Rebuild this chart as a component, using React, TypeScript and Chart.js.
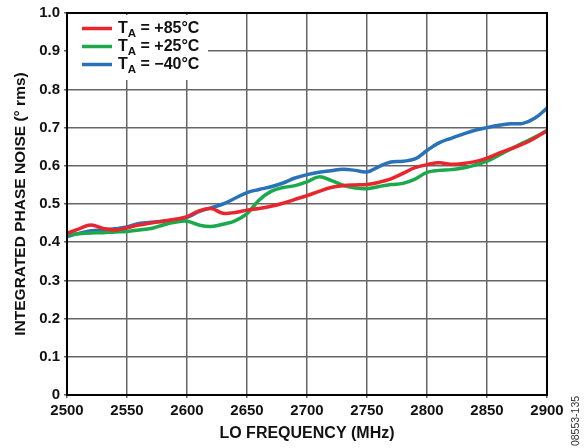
import React, { useEffect, useRef } from "react";
import { Chart, registerables } from "chart.js";

Chart.register(...registerables);

const freqMHz = [
  2500, 2510, 2520, 2530, 2540, 2550, 2560, 2570, 2580, 2590, 2600, 2610, 2620, 2630, 2640, 2650, 2660,
  2670, 2680, 2690, 2700, 2710, 2720, 2730, 2740, 2750, 2760, 2770, 2780, 2790, 2800, 2810, 2820, 2830,
  2840, 2850, 2860, 2870, 2880, 2890, 2900,
];

const noiseP85 = [
  0.423, 0.435, 0.445, 0.436, 0.432, 0.438, 0.445, 0.45, 0.455, 0.46, 0.467, 0.482, 0.488, 0.476, 0.478,
  0.484, 0.488, 0.494, 0.502, 0.512, 0.522, 0.533, 0.543, 0.548, 0.55, 0.551, 0.557, 0.566, 0.58, 0.595,
  0.603, 0.608, 0.604, 0.606, 0.611, 0.62, 0.633, 0.645, 0.657, 0.673, 0.692,
];

const noiseP25 = [
  0.419, 0.422, 0.424, 0.425, 0.427, 0.428, 0.432, 0.436, 0.445, 0.452, 0.455, 0.445, 0.441, 0.447, 0.456,
  0.475, 0.51, 0.533, 0.543, 0.548, 0.558, 0.571, 0.562, 0.549, 0.542, 0.54, 0.546, 0.551, 0.554, 0.565,
  0.583, 0.588, 0.59, 0.594, 0.602, 0.612, 0.628, 0.644, 0.66, 0.675, 0.692,
];

const noiseM40 = [
  0.415, 0.423, 0.43, 0.432, 0.435, 0.44, 0.449, 0.452, 0.455, 0.458, 0.465, 0.48, 0.49, 0.5, 0.515, 0.53,
  0.538, 0.545, 0.555, 0.568, 0.577, 0.583, 0.587, 0.591, 0.588, 0.584, 0.598, 0.61, 0.612, 0.618, 0.64,
  0.66, 0.672, 0.683, 0.693, 0.7, 0.706, 0.71, 0.711, 0.725, 0.751,
];

const seriesLabels = ["+85°C", "+25°C", "\u221240°C"];
const seriesColors = ["#e8262d", "#1ba94c", "#2a72b8"];

const xTitle = "LO FREQUENCY (MHz)";
const yTitle = "INTEGRATED PHASE NOISE (° rms)";
const figureId = "08553-135";

const FONT = "'Liberation Sans', Arial, Helvetica, sans-serif";

export default function App() {
  const ref = useRef<HTMLCanvasElement | null>(null);

  useEffect(() => {
    if (!ref.current) return;
    const toPts = (arr: number[]) => arr.map((y, i) => ({ x: freqMHz[i], y }));
    const all = [noiseP85, noiseP25, noiseM40];

    const framePlugin = {
      id: "frameAndLegend",
      afterDraw(chart: any) {
        const { ctx, chartArea } = chart;
        ctx.save();
        // full frame
        ctx.strokeStyle = "#000";
        ctx.lineWidth = 2;
        ctx.strokeRect(chartArea.left, chartArea.top, chartArea.right - chartArea.left, chartArea.bottom - chartArea.top);
        // legend box
        ctx.fillStyle = "#fff";
        ctx.fillRect(chartArea.left + 1, 15, 140, 65);
        const rowY = [28.5, 46.5, 64.5];
        for (let i = 0; i < 3; i++) {
          const y = rowY[i];
          ctx.strokeStyle = seriesColors[i];
          ctx.lineWidth = 3.5;
          ctx.beginPath();
          ctx.moveTo(82, y);
          ctx.lineTo(112, y);
          ctx.stroke();
          ctx.fillStyle = "#111";
          ctx.textBaseline = "middle";
          ctx.textAlign = "left";
          ctx.font = `bold 16px ${FONT}`;
          let x = 118;
          ctx.fillText("T", x, y);
          x += ctx.measureText("T").width;
          ctx.font = `bold 11.5px ${FONT}`;
          ctx.fillText("A", x, y + 5);
          x += ctx.measureText("A").width;
          ctx.font = `bold 16px ${FONT}`;
          ctx.fillText(" = " + seriesLabels[i], x, y);
        }
        // figure id
        ctx.translate(576, 421);
        ctx.rotate(-Math.PI / 2);
        ctx.font = `10.5px ${FONT}`;
        ctx.fillStyle = "#333";
        ctx.textAlign = "center";
        ctx.textBaseline = "middle";
        ctx.fillText(figureId, 0, 0);
        ctx.restore();
      },
    };

    const chart = new Chart(ref.current, {
      type: "line",
      data: {
        datasets: all.map((arr, i) => ({
          label: seriesLabels[i],
          data: toPts(arr),
          borderColor: seriesColors[i],
          backgroundColor: seriesColors[i],
          borderWidth: 3.5,
          pointRadius: 0,
          tension: 0.4,
          fill: false,
        })),
      },
      options: {
        animation: false,
        responsive: false,
        maintainAspectRatio: false,
        layout: { padding: { top: 10, right: 38, bottom: 4, left: 0 } },
        plugins: { legend: { display: false }, tooltip: { enabled: false } },
        scales: {
          x: {
            type: "linear",
            min: 2500,
            max: 2900,
            afterFit: (s: any) => {
              s.height = 49;
            },
            ticks: {
              stepSize: 50,
              color: "#111",
              font: { family: FONT, size: 15, weight: "bold" },
              padding: 4,
              maxRotation: 0,
              callback: (v: any) => String(v),
            },
            grid: { color: "#666", lineWidth: 1.5, tickLength: 3 },
            border: { color: "#000", width: 2 },
            title: {
              display: true,
              text: xTitle,
              color: "#111",
              font: { family: FONT, size: 16, weight: "bold" },
              padding: { top: 0, bottom: 1 },
            },
          },
          y: {
            min: 0,
            max: 1,
            afterFit: (s: any) => {
              s.width = 67;
            },
            ticks: {
              stepSize: 0.1,
              color: "#111",
              font: { family: FONT, size: 15, weight: "bold" },
              padding: 4,
              callback: (v: any) => (Math.abs(v) < 1e-9 ? "0" : Number(v).toFixed(1)),
            },
            grid: { color: "#666", lineWidth: 1.5, tickLength: 3 },
            border: { color: "#000", width: 2 },
            title: {
              display: true,
              text: yTitle,
              color: "#111",
              font: { family: FONT, size: 15.5, weight: "bold" },
              padding: { top: 11, bottom: 0 },
            },
          },
        },
      },
      plugins: [framePlugin],
    });
    return () => chart.destroy();
  }, []);

  return (
    <div style={{ position: "fixed", left: 0, top: 0, width: 585, height: 448, background: "#fff" }}>
      <canvas ref={ref} width={585} height={448} style={{ width: 585, height: 448, display: "block" }} />
    </div>
  );
}
